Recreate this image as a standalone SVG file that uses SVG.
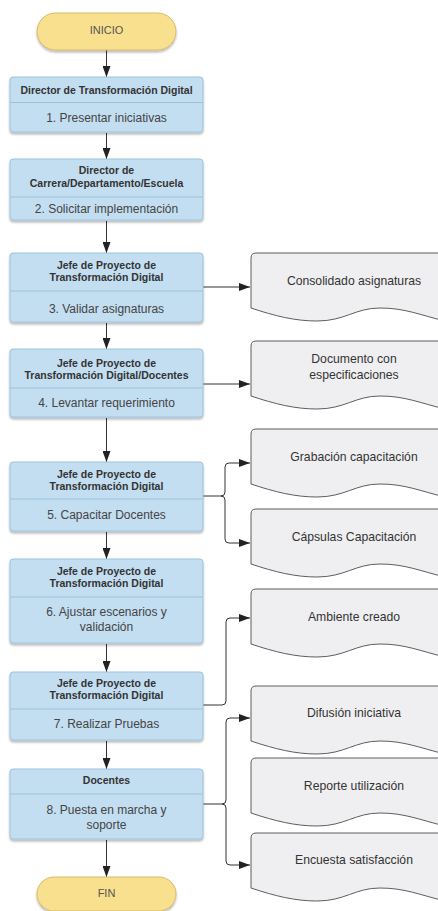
<svg xmlns="http://www.w3.org/2000/svg" width="438" height="911" viewBox="0 0 438 911">
<defs>
<filter id="sh" x="-10%" y="-10%" width="120%" height="140%">
<feDropShadow dx="0" dy="2" stdDeviation="1.2" flood-color="#000" flood-opacity="0.28"/>
</filter>
<marker id="ah" markerUnits="userSpaceOnUse" markerWidth="11" markerHeight="8" refX="11" refY="4" orient="auto">
<path d="M0,0 L11,4 L0,8 Z" fill="#222"/>
</marker>
</defs>
<style>
.box{fill:#C3DEF1;stroke:#9DC2DD;stroke-width:1}
.div{stroke:#9DC2DD;stroke-width:1}
.term{fill:#F8E08E;stroke:#D6BB68;stroke-width:1}
.doc{fill:#EFEFF1;stroke:#5E5E5E;stroke-width:1}
.hd{font-family:"Liberation Sans",Arial,sans-serif;font-size:10.5px;font-weight:bold;fill:#333;text-anchor:middle}
.bd{font-family:"Liberation Sans",Arial,sans-serif;font-size:12px;fill:#444;text-anchor:middle}
.tt{font-family:"Liberation Sans",Arial,sans-serif;font-size:11px;fill:#555;text-anchor:middle}
.dt{font-family:"Liberation Sans",Arial,sans-serif;font-size:12.2px;fill:#333;text-anchor:middle}
.cn{fill:none;stroke:#333;stroke-width:1}
</style>

<g id="connectors">
<path class="cn" d="M106.5 50 V77" marker-end="url(#ah)"/>
<path class="cn" d="M106.5 133 V159" marker-end="url(#ah)"/>
<path class="cn" d="M106.5 221 V253" marker-end="url(#ah)"/>
<path class="cn" d="M106.5 323 V349" marker-end="url(#ah)"/>
<path class="cn" d="M106.5 418 V462" marker-end="url(#ah)"/>
<path class="cn" d="M106.5 532 V559" marker-end="url(#ah)"/>
<path class="cn" d="M106.5 644 V672" marker-end="url(#ah)"/>
<path class="cn" d="M106.5 741 V769" marker-end="url(#ah)"/>
<path class="cn" d="M106.5 840 V877" marker-end="url(#ah)"/>
<path class="cn" d="M203 287 H250" marker-end="url(#ah)"/>
<path class="cn" d="M203 384 H250" marker-end="url(#ah)"/>
<path class="cn" d="M203 496 H221 Q225 496 225 492 V467 Q225 463 229 463 H250" marker-end="url(#ah)"/>
<path class="cn" d="M221 496 Q225 496 225 500 V539 Q225 543 229 543 H250" marker-end="url(#ah)"/>
<path class="cn" d="M203 705 H222 Q226 705 226 701 V622 Q226 618 230 618 H250" marker-end="url(#ah)"/>
<path class="cn" d="M203 804 H222 Q226 804 226 800 V722 Q226 718 230 718 H250" marker-end="url(#ah)"/>
<path class="cn" d="M222 804 Q226 804 226 808 V861 Q226 865 230 865 H250" marker-end="url(#ah)"/>
</g>

<g id="inicio">
<rect class="term" x="37" y="13" width="139" height="37" rx="18.5" filter="url(#sh)"/>
<text class="tt" x="106.5" y="34">INICIO</text>
</g>

<g id="p1">
<rect class="box" x="10" y="77" width="193" height="55" rx="3" filter="url(#sh)"/>
<line class="div" x1="10" y1="102.5" x2="203" y2="102.5"/>
<text class="hd" x="106.5" y="93.8">Director de Transformación Digital</text>
<text class="bd" x="106.5" y="122.3">1. Presentar iniciativas</text>
</g>

<g id="p2">
<rect class="box" x="10" y="159" width="193" height="61" rx="3" filter="url(#sh)"/>
<line class="div" x1="10" y1="197" x2="203" y2="197"/>
<text class="hd" x="106.5" y="173.8">Director de</text>
<text class="hd" x="106.5" y="186.8">Carrera/Departamento/Escuela</text>
<text class="bd" x="106.5" y="213">2. Solicitar implementación</text>
</g>

<g id="p3">
<rect class="box" x="10" y="253" width="193" height="69" rx="3" filter="url(#sh)"/>
<line class="div" x1="10" y1="291" x2="203" y2="291"/>
<text class="hd" x="106.5" y="268.8">Jefe de Proyecto de</text>
<text class="hd" x="106.5" y="280.8">Transformación Digital</text>
<text class="bd" x="106.5" y="313">3. Validar asignaturas</text>
</g>

<g id="p4">
<rect class="box" x="10" y="349" width="193" height="68" rx="3" filter="url(#sh)"/>
<line class="div" x1="10" y1="388" x2="203" y2="388"/>
<text class="hd" x="106.5" y="366.8">Jefe de Proyecto de</text>
<text class="hd" x="106.5" y="378.8">Transformación Digital/Docentes</text>
<text class="bd" x="106.5" y="407">4. Levantar requerimiento</text>
</g>

<g id="p5">
<rect class="box" x="10" y="462" width="193" height="69" rx="3" filter="url(#sh)"/>
<line class="div" x1="10" y1="499" x2="203" y2="499"/>
<text class="hd" x="106.5" y="477.8">Jefe de Proyecto de</text>
<text class="hd" x="106.5" y="489.8">Transformación Digital</text>
<text class="bd" x="106.5" y="519.3">5. Capacitar Docentes</text>
</g>

<g id="p6">
<rect class="box" x="10" y="559" width="193" height="84" rx="3" filter="url(#sh)"/>
<line class="div" x1="10" y1="597" x2="203" y2="597"/>
<text class="hd" x="106.5" y="574.8">Jefe de Proyecto de</text>
<text class="hd" x="106.5" y="586.8">Transformación Digital</text>
<text class="bd" x="106.5" y="616.3">6. Ajustar escenarios y</text>
<text class="bd" x="106.5" y="631.3">validación</text>
</g>

<g id="p7">
<rect class="box" x="10" y="672" width="193" height="68" rx="3" filter="url(#sh)"/>
<line class="div" x1="10" y1="709" x2="203" y2="709"/>
<text class="hd" x="106.5" y="686.8">Jefe de Proyecto de</text>
<text class="hd" x="106.5" y="698.8">Transformación Digital</text>
<text class="bd" x="106.5" y="728.3">7. Realizar Pruebas</text>
</g>

<g id="p8">
<rect class="box" x="10" y="769" width="193" height="70" rx="3" filter="url(#sh)"/>
<line class="div" x1="10" y1="794" x2="203" y2="794"/>
<text class="hd" x="106.5" y="783.8">Docentes</text>
<text class="bd" x="106.5" y="813.5">8. Puesta en marcha y</text>
<text class="bd" x="106.5" y="829">soporte</text>
</g>

<g id="fin">
<rect class="term" x="37" y="877" width="139" height="34" rx="17" filter="url(#sh)"/>
<text class="tt" x="106.5" y="897">FIN</text>
</g>

<g id="d1">
<path class="doc" d="M251 308 V258 Q251 253 256 253 H460 V321 L445 321 C420 315 405 308 380 308 C355 308 345 321 317 321 C295 321 275 316 251 308 Z"/>
<text class="dt" x="354" y="285.3">Consolidado asignaturas</text>
</g>

<g id="d2">
<path class="doc" d="M251 396 V346 Q251 341 256 341 H460 V409 L445 409 C420 403 405 396 380 396 C355 396 345 409 317 409 C295 409 275 404 251 396 Z"/>
<text class="dt" x="354" y="363.3">Documento con</text>
<text class="dt" x="354" y="379.3">especificaciones</text>
</g>

<g id="d3">
<path class="doc" d="M251 484 V434 Q251 429 256 429 H460 V497 L445 497 C420 491 405 484 380 484 C355 484 345 497 317 497 C295 497 275 492 251 484 Z"/>
<text class="dt" x="354" y="461.3">Grabación capacitación</text>
</g>

<g id="d4">
<path class="doc" d="M251 564 V514 Q251 509 256 509 H460 V577 L445 577 C420 571 405 564 380 564 C355 564 345 577 317 577 C295 577 275 572 251 564 Z"/>
<text class="dt" x="354" y="541.3">Cápsulas Capacitación</text>
</g>

<g id="d5">
<path class="doc" d="M251 644 V594 Q251 589 256 589 H460 V657 L445 657 C420 651 405 644 380 644 C355 644 345 657 317 657 C295 657 275 652 251 644 Z"/>
<text class="dt" x="354" y="621.3">Ambiente creado</text>
</g>

<g id="d6">
<path class="doc" d="M251 741 V691 Q251 686 256 686 H460 V754 L445 754 C420 748 405 741 380 741 C355 741 345 754 317 754 C295 754 275 749 251 741 Z"/>
<text class="dt" x="354" y="717.3">Difusión iniciativa</text>
</g>

<g id="d7">
<path class="doc" d="M251 813 V763 Q251 758 256 758 H460 V826 L445 826 C420 820 405 813 380 813 C355 813 345 826 317 826 C295 826 275 821 251 813 Z"/>
<text class="dt" x="354" y="790.3">Reporte utilización</text>
</g>

<g id="d8">
<path class="doc" d="M251 888 V838 Q251 833 256 833 H460 V901 L445 901 C420 895 405 888 380 888 C355 888 345 901 317 901 C295 901 275 896 251 888 Z"/>
<text class="dt" x="354" y="864.3">Encuesta satisfacción</text>
</g>
</svg>
